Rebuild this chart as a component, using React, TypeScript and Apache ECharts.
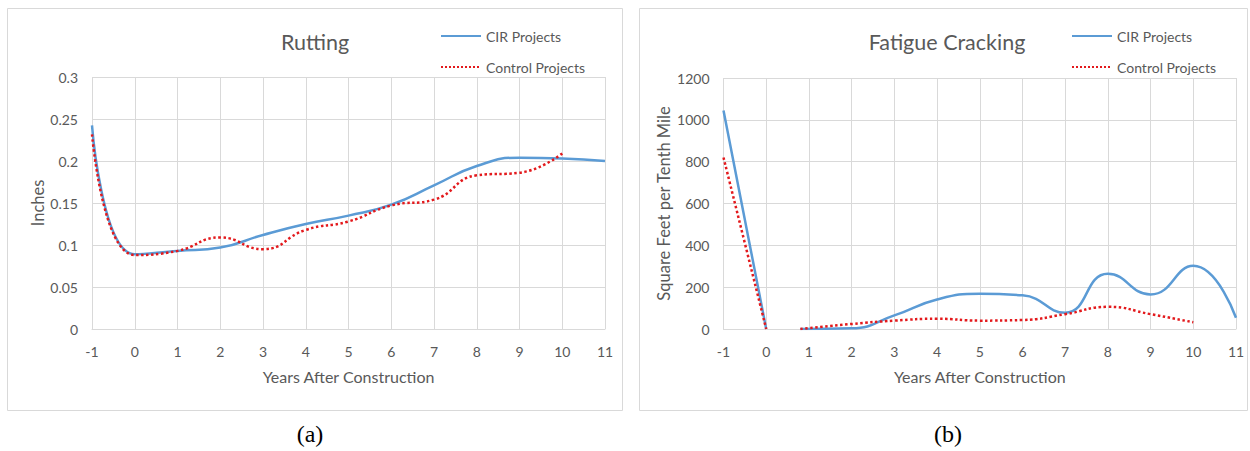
import React, { useEffect, useRef } from 'react';
import * as echarts from 'echarts';

// ---- Data ----
const rutYearsCIR = [-1, 0, 1, 2, 3, 4, 5, 6, 7, 8, 9, 10, 11];
const rutCIR = [0.2425, 0.089, 0.093, 0.097, 0.112, 0.125, 0.135, 0.148, 0.171, 0.194, 0.204, 0.203, 0.2];
const rutYearsControl = [-1, 0, 1, 2, 3, 4, 5, 6, 7, 8, 9, 10];
const rutControl = [0.2316, 0.088, 0.093, 0.109, 0.095, 0.118, 0.128, 0.147, 0.154, 0.183, 0.186, 0.209];

// '-' marks the break in the line between year 0 and the first year after construction
const fatYearsCIR = [-1, 0, 0.4, 0.8, 2, 3, 4, 5, 6, 7, 8, 9, 10, 11];
const fatCIR: (number | string)[] = [1045, 0, '-', 0, 3, 65, 141, 168, 161, 78, 264, 165, 302, 54];
const fatYearsControl = [-1, 0, 0.4, 0.8, 2, 3, 4, 5, 6, 7, 8, 9, 10];
const fatControl: (number | string)[] = [820, 0, '-', 0, 24, 40, 49, 40, 43, 71, 106, 71, 32];

const seriesNames = ['CIR Projects', 'Control Projects'];
const titles = ['Rutting', 'Fatigue Cracking'];
const yNames = ['Inches', 'Square Feet per Tenth Mile'];
const xName = 'Years After Construction';
const panelLabels = ['(a)', '(b)'];

const FONT = 'Lato, "Open Sans", sans-serif';
const GRAY = '#595959';
const GRID = '#d9d9d9';
const BLUE = '#5b9bd5';
const RED = '#e3191c';

const pairs = (xs: number[], ys: (number | string)[]) => xs.map((x, i) => [x, ys[i]]);

export default function App() {
  const ref = useRef<HTMLDivElement>(null);
  useEffect(() => {
    if (!ref.current) return;
    const chart = echarts.init(ref.current, null, { renderer: 'svg' });

    const xAxisBase = (gridIndex: number) => ({
      type: 'value',
      gridIndex,
      min: -1,
      max: 11,
      interval: 1,
      axisLine: { show: true, lineStyle: { color: GRID, width: 1 } },
      axisTick: { show: false },
      axisLabel: { color: GRAY, fontSize: 14, fontFamily: FONT, margin: 15 },
      splitLine: { show: true, lineStyle: { color: GRID, width: 1 } },
      name: xName,
      nameLocation: 'middle',
      nameGap: 39,
      nameTextStyle: { color: GRAY, fontSize: 16, fontFamily: FONT },
    });
    const yAxisBase = (gridIndex: number, max: number, interval: number, name: string, gap: number) => ({
      type: 'value',
      gridIndex,
      min: 0,
      max,
      interval,
      axisLine: { show: false },
      axisTick: { show: false },
      axisLabel: {
        color: GRAY,
        fontSize: 14,
        fontFamily: FONT,
        margin: 14,
        formatter: (v: number) => String(Math.round(v * 1000) / 1000),
      },
      splitLine: { show: true, lineStyle: { color: GRID, width: 1 } },
      name,
      nameLocation: 'middle',
      nameRotate: 90,
      nameGap: gap,
      nameTextStyle: { color: GRAY, fontSize: 16.5, fontFamily: FONT },
    });
    const cirStyle = { color: BLUE, width: 2.5, type: 'solid' };
    const ctlStyle = { color: RED, width: 2.5, type: 'dotted' };
    const mk = (name: string, data: any[], idx: number, ls: any) => ({
      name,
      type: 'line',
      xAxisIndex: idx,
      yAxisIndex: idx,
      smooth: 0.5,
      symbol: 'none',
      data,
      lineStyle: ls,
      itemStyle: { color: ls.color },
    });
    const legendBase = (left: number) => ({
      left,
      top: 29,
      padding: 0,
      orient: 'vertical',
      itemWidth: 40,
      itemHeight: 14,
      itemGap: 17,
      selectedMode: false,
      data: seriesNames,
      itemStyle: { opacity: 0 },
      textStyle: { color: GRAY, fontSize: 14, fontFamily: FONT },
    });

    chart.setOption({
      animation: false,
      backgroundColor: '#ffffff',
      grid: [
        { left: 92, top: 77, width: 513, height: 252 },
        { left: 723.5, top: 78, width: 512.5, height: 251 },
      ],
      xAxis: [xAxisBase(0), xAxisBase(1)],
      yAxis: [
        yAxisBase(0, 0.3, 0.05, yNames[0], 46),
        yAxisBase(1, 1200, 200, yNames[1], 51),
      ],
      legend: [legendBase(440), legendBase(1071)],
      series: [
        mk(seriesNames[0], pairs(rutYearsCIR, rutCIR), 0, cirStyle),
        mk(seriesNames[1], pairs(rutYearsControl, rutControl), 0, ctlStyle),
        mk(seriesNames[0], pairs(fatYearsCIR, fatCIR), 1, cirStyle),
        mk(seriesNames[1], pairs(fatYearsControl, fatControl), 1, ctlStyle),
      ],
      graphic: [
        { type: 'rect', shape: { x: 7.5, y: 8.5, width: 615, height: 402 }, style: { fill: 'none', stroke: GRID, lineWidth: 1 }, silent: true },
        { type: 'rect', shape: { x: 639.5, y: 8.5, width: 608, height: 402 }, style: { fill: 'none', stroke: GRID, lineWidth: 1 }, silent: true },
        { type: 'text', x: 315, y: 42, style: { text: titles[0], fontSize: 21.5, fontFamily: FONT, fill: GRAY, align: 'center', verticalAlign: 'middle' } },
        { type: 'text', x: 947, y: 42, style: { text: titles[1], fontSize: 21.5, fontFamily: FONT, fill: GRAY, align: 'center', verticalAlign: 'middle' } },
        { type: 'text', x: 310, y: 434, style: { text: panelLabels[0], fontSize: 24, fontFamily: '"Liberation Serif", "Times New Roman", serif', fill: '#000', align: 'center', verticalAlign: 'middle' } },
        { type: 'text', x: 948, y: 434, style: { text: panelLabels[1], fontSize: 24, fontFamily: '"Liberation Serif", "Times New Roman", serif', fill: '#000', align: 'center', verticalAlign: 'middle' } },
      ],
    });
    return () => chart.dispose();
  }, []);
  return (
    <div
      ref={ref}
      style={{ position: 'absolute', left: 0, top: 0, width: 1250, height: 451, background: '#fff' }}
    />
  );
}
